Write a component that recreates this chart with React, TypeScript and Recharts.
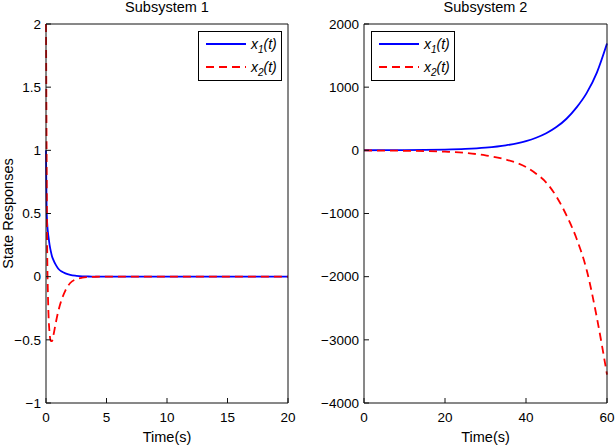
import { LineChart, Line, XAxis, YAxis, Legend } from 'recharts'

// Subsystem 1 (stable)
const t1 = [0, 0.02, 0.05, 0.1, 0.15, 0.2, 0.3, 0.4, 0.5, 0.6, 0.8, 1, 1.3, 1.6, 2, 2.5, 3, 3.5, 4, 5, 10, 15, 20]
const x1Sub1 = [1.0, 0.8, 0.55, 0.42, 0.36, 0.32, 0.25, 0.2, 0.16, 0.135, 0.095, 0.065, 0.04, 0.026, 0.014, 0.007, 0.003, 0.0015, 0.0007, 0, 0, 0, 0]
const x2Sub1 = [2.0, 1.6, 1.0, 0.2, -0.1, -0.28, -0.45, -0.51, -0.51, -0.47, -0.37, -0.28, -0.18, -0.11, -0.05, -0.02, -0.008, -0.003, -0.001, 0, 0, 0, 0]

// Subsystem 2 (unstable)
const t2 = [0, 5, 10, 15, 20, 25, 30, 35, 40, 42.5, 45, 47.5, 50, 52.5, 55, 57.5, 60]
const x1Sub2 = [1.1, 2, 3.7, 6.8, 12.5, 23, 43, 79, 146, 199, 270, 368, 500, 680, 910, 1230, 1690]
const x2Sub2 = [-2, -4, -7, -12, -22, -40, -80, -145, -265, -370, -510, -730, -1030, -1400, -1900, -2650, -3550]

const xTicks1 = [0, 5, 10, 15, 20]
const yTicks1 = [-1, -0.5, 0, 0.5, 1, 1.5, 2]
const xTicks2 = [0, 20, 40, 60]
const yTicks2 = [-4000, -3000, -2000, -1000, 0, 1000, 2000]

const seriesNames = ['1', '2']

const FONT = '"Liberation Sans", Arial, Helvetica, sans-serif'
const AXIS = '#111'
const tickStyle = { fill: '#000', fontSize: 13.5, fontFamily: FONT }
const labelStyle = { fill: '#000', fontSize: 14.5, fontFamily: FONT }

const fmt = (v: number) => (v < 0 ? '\u2212' + Math.abs(v) : String(v))

function LegendBox() {
  return (
    <div
      style={{
        width: 84,
        height: 50,
        boxSizing: 'border-box',
        border: '1px solid #000',
        background: '#fff',
        fontFamily: FONT,
        fontSize: 14,
      }}
    >
      {seriesNames.map((n, i) => (
        <div key={n} style={{ height: 23, display: 'flex', alignItems: 'center' }}>
          <svg width={40} height={4} style={{ marginLeft: 7, marginRight: 5 }}>
            <line
              x1={0}
              y1={2}
              x2={40}
              y2={2}
              stroke={i === 0 ? '#0000ff' : '#ff0000'}
              strokeWidth={1.8}
              strokeDasharray={i === 0 ? undefined : '8 5'}
            />
          </svg>
          <span style={{ fontStyle: 'italic', lineHeight: '14px' }}>
            x<sub style={{ fontSize: 10, lineHeight: 0 }}>{n}</sub>(t)
          </span>
        </div>
      ))}
    </div>
  )
}

interface PanelProps {
  t: number[]
  a: number[]
  b: number[]
  xTicks: number[]
  yTicks: number[]
  title: string
  yWidth: number
  right: number
  width: number
  legendLeft: number
  yLabel?: string
}

function Panel({ t, a, b, xTicks, yTicks, title, yWidth, right, width, legendLeft, yLabel }: PanelProps) {
  const data = t.map((tt, i) => ({ t: tt, x1: a[i], x2: b[i] }))
  const xDomain = [xTicks[0], xTicks[xTicks.length - 1]]
  const yDomain = [yTicks[0], yTicks[yTicks.length - 1]]
  // top axis / right axis are 1px thick boxes, so margins are shrunk by 1
  return (
    <LineChart width={width} height={446} data={data} margin={{ top: 23, right: right - 1, bottom: 0, left: 0 }}>
      <XAxis
        dataKey="t"
        type="number"
        domain={xDomain}
        ticks={xTicks}
        tickSize={-5}
        tickMargin={14}
        height={43}
        tick={tickStyle}
        stroke={AXIS}
        tickLine={{ stroke: AXIS }}
        label={{ value: 'Time(s)', position: 'insideBottom', offset: 4, style: labelStyle }}
      />
      <XAxis
        xAxisId="top"
        orientation="top"
        dataKey="t"
        type="number"
        domain={xDomain}
        ticks={xTicks}
        tickSize={-5}
        height={1}
        tick={false}
        stroke={AXIS}
        tickLine={{ stroke: AXIS }}
        label={{ value: title, position: 'top', offset: 11.5, style: labelStyle }}
      />
      <YAxis
        type="number"
        domain={yDomain}
        ticks={yTicks}
        tickSize={-5}
        tickMargin={10}
        width={yWidth}
        tick={tickStyle}
        tickFormatter={fmt}
        stroke={AXIS}
        tickLine={{ stroke: AXIS }}
        label={
          yLabel
            ? { value: yLabel, angle: -90, position: 'insideLeft', offset: 8, style: { ...labelStyle, textAnchor: 'middle' } }
            : undefined
        }
      />
      <YAxis
        yAxisId="right"
        orientation="right"
        type="number"
        domain={yDomain}
        ticks={yTicks}
        tickSize={-5}
        width={1}
        tick={false}
        stroke={AXIS}
        tickLine={{ stroke: AXIS }}
      />
      <Legend
        layout="vertical"
        align="center"
        verticalAlign="middle"
        wrapperStyle={{ left: legendLeft, top: 31, width: 84 }}
        content={() => <LegendBox />}
      />
      <Line type="monotone" dataKey="x1" stroke="#0000ff" strokeWidth={1.8} dot={false} isAnimationActive={false} />
      <Line
        type="monotone"
        dataKey="x2"
        stroke="#ff0000"
        strokeWidth={1.8}
        strokeDasharray="8 5"
        dot={false}
        isAnimationActive={false}
      />
    </LineChart>
  )
}

export default function App() {
  return (
    <div style={{ position: 'absolute', left: 0, top: 0, width: 615, height: 446, background: '#fff' }}>
      <div style={{ position: 'absolute', left: 0, top: 0 }}>
        <Panel
          t={t1}
          a={x1Sub1}
          b={x2Sub1}
          xTicks={xTicks1}
          yTicks={yTicks1}
          title="Subsystem 1"
          yWidth={46}
          right={20}
          width={308}
          legendLeft={198}
          yLabel="State Responses"
        />
      </div>
      <div style={{ position: 'absolute', left: 308, top: 0 }}>
        <Panel
          t={t2}
          a={x1Sub2}
          b={x2Sub2}
          xTicks={xTicks2}
          yTicks={yTicks2}
          title="Subsystem 2"
          yWidth={56}
          right={8}
          width={307}
          legendLeft={63}
        />
      </div>
    </div>
  )
}
